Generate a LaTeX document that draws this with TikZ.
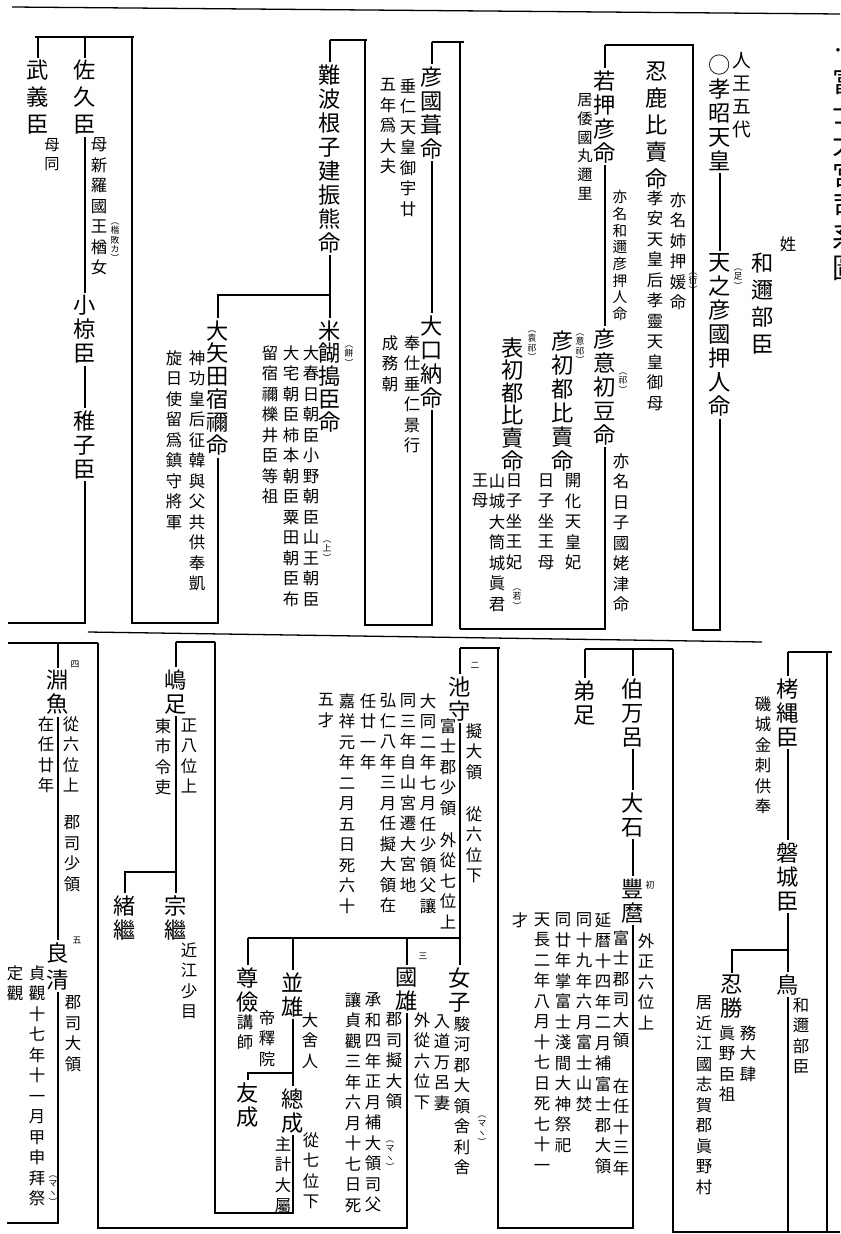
\documentclass[tikz,border=0pt]{standalone}
\usepackage{fontspec}
\newfontfamily\cjk{Noto Sans CJK JP}
\usepackage{tikz}
\usetikzlibrary{positioning}
\XeTeXlinebreaklocale "ja"
\XeTeXlinebreakskip=0pt plus 1pt

\begin{document}
\begin{tikzpicture}[x=0.03cm, y=-0.03cm, line width=1.1pt,
        nm/.style={font=\cjk\fontsize{19}{20.5}\selectfont, text width=21pt,
                align=center, inner sep=0pt, outer sep=2pt, anchor=north},
        lnm/.style={nm, font=\cjk\fontsize{19}{23}\selectfont},
        an/.style={font=\cjk\fontsize{14}{17.5}\selectfont, text width=16pt,
                align=center, inner sep=0pt, anchor=north},
        san/.style={an, font=\cjk\fontsize{13}{16}\selectfont},
        nt/.style={font=\cjk\fontsize{7.5}{8}\selectfont, align=center,
                inner sep=0pt, anchor=north}
        ]
        \useasboundingbox (0,0) rectangle (840,1234);
        \fill[white] (0,0) rectangle (840,1234);
        \clip (0,0) rectangle (840,1234);

        % title (cut by the page edge)
        \node[font=\cjk\fontsize{24}{26.5}\selectfont, text width=26pt, align=center,
                inner sep=0pt, anchor=north] (title) at (847,68) {富士大宮司系圖};
        \node[nt, font=\cjk\fontsize{14}{14}\selectfont] (tdot) at (838,48) {・};

        % rules
        \draw (12,7) -- (840,14);
        \draw (88,632) -- (762,642);

        % Kosho Tenno
        \node[nm, font=\cjk\fontsize{16}{19.5}\selectfont] (ninno) at (742,50) {人王五代};
        \node[nm] (kosho) at (720,53) {○\\孝昭天皇};
        \node[an] (kabane) at (788,236) {姓};
        \node[lnm] (wanibe) at (763,251) {和邇部臣};
        \node[nm] (amatarashi) at (720,251) {天之彦國押人命};
        \node[nt] (amatarashi1) at (738,268) {︵\\足\\︶};
        \draw (kosho.south) -- (amatarashi.north);

        % Oshika / Wakaoshi
        \coordinate (b1l) at (605,45);
        \coordinate (b1r) at (693,45);
        \node[lnm] (oshika) at (657,60) {忍鹿比賣命};
        \node[an] (oshika1) at (678,192) {亦名姉押媛命};
        \node[nt] (oshika2) at (693,272) {︵\\衍\\︶};
        \node[an] (oshika3) at (655,190) {孝安天皇后孝靈天皇御母};
        \node[nm] (wakaoshi) at (605,68) {若押彦命};
        \node[san] (wakaoshi1) at (585,93) {居倭國丸邇里};
        \node[san, font=\cjk\fontsize{12.5}{14.2}\selectfont] (wakaoshi2) at (620,190) {亦名和邇彦押人命};
        \node[nm] (hikoki) at (605,326) {彦意初豆命};
        \node[nt] (hikoki1) at (623,372) {︵\\祁\\︶};
        \node[an] (hikoki2) at (621,453) {亦名日子國姥津命};
        \draw (b1l) -- (b1r) -- (693,630) -- (720,630) -- (amatarashi.south);
        \draw (b1l) -- (wakaoshi.north);
        \draw (wakaoshi.south) -- (hikoki.north);
        \draw (hikoki.south) -- (605,629) -- (460,629);

        % the two princesses
        \node[nm] (hikohime) at (563,328) {彦初都比賣命};
        \node[nt] (hikohime1) at (580,333) {︵\\意\\祁\\︶};
        \node[an] (hikohime2) at (573,473) {開化天皇妃};
        \node[an] (hikohime3) at (546,473) {日子坐王母};
        \node[nm, font=\cjk\fontsize{19}{19.3}\selectfont] (omote) at (513,335) {表初都比賣命};
        \node[nt] (omote1) at (532,330) {︵\\袁\\祁\\︶};
        \node[an] (omote2) at (514,473) {日子坐王妃};
        \node[an] (omote3) at (497,473) {山城大筒城眞君};
        \node[nt] (omote4) at (517,588) {︵\\若\\︶};
        \node[an] (omote5) at (480,473) {王母};

        % Hikokunibuku
        \coordinate (b2l) at (432,42);
        \coordinate (b2r) at (464,42);
        \node[nm] (hikokuni) at (432,64) {彦國葺命};
        \node[an] (hikokuni1) at (408,78) {垂仁天皇御宇廿};
        \node[an] (hikokuni2) at (388,78) {五年爲大夫};
        \node[nm] (ooguchi) at (432,313) {大口納命};
        \node[an] (ooguchi1) at (412,335) {奉仕垂仁景行};
        \node[an] (ooguchi2) at (390,335) {成務朝};
        \draw (b2l) -- (b2r);
        \draw (b2l) -- (hikokuni.north);
        \draw (hikokuni.south) -- (ooguchi.north);
        \draw (460,42) -- (460,629);

        % Naniwa
        \coordinate (b3l) at (330,40);
        \coordinate (b3r) at (367,40);
        \node[nm] (naniwa) at (330,62) {難波根子建振熊命};
        \node[nm, font=\cjk\fontsize{19}{19.6}\selectfont] (takafu) at (330,318) {米餬搗臣命};
        \node[nt] (takafu1) at (349,345) {︵\\餅\\︶};
        \node[an] (takafu2) at (311,345) {大春日朝臣小野朝臣山王朝臣};
        \node[nt] (takafu3) at (327,540) {︵\\上\\︶};
        \node[an] (takafu4) at (291,345) {大宅朝臣柿本朝臣粟田朝臣布};
        \node[an] (takafu5) at (270,345) {留宿禰櫟井臣等祖};
        \node[nm, font=\cjk\fontsize{19}{19.6}\selectfont] (ooyata) at (218,318) {大矢田宿禰命};
        \node[an] (ooyata1) at (197,350) {神功皇后征韓與父共供奉凱};
        \node[an] (ooyata2) at (174,350) {旋日使留爲鎮守將軍};
        \coordinate (j3) at (330,295);
        \draw (b3l) -- (b3r);
        \draw (b3l) -- (naniwa.north);
        \draw (naniwa.south) -- (takafu.north);
        \draw (j3) -- (218,295) -- (ooyata.north);
        \draw (365,40) -- (365,625) -- (432,625) -- (ooguchi.south);
        \draw (ooyata.south) -- (218,623) -- (132,623) -- (132,37);

        % Takeyoshi / Saku
        \coordinate (b4l) at (35,37);
        \coordinate (b4r) at (134,37);
        \node[lnm] (takeyoshi) at (38,58) {武義臣};
        \node[san] (takeyoshi1) at (52,138) {母同};
        \node[lnm] (saku) at (85,58) {佐久臣};
        \node[an] (saku1) at (99,137) {母新羅國王楢女};
        \node[nt] (saku2) at (115,222) {︵\\楷\\敗\\カ\\︶};
        \node[nm] (ogura) at (85,293) {小椋臣};
        \node[nm] (wakugo) at (85,408) {稚子臣};
        \draw (b4l) -- (b4r);
        \draw (38,37) -- (takeyoshi.north);
        \draw (85,37) -- (saku.north);
        \draw (saku.south) -- (ogura.north);
        \draw (ogura.south) -- (wakugo.north);
        \draw (wakugo.south) -- (85,623) -- (8,623);

        % Fuchina
        \coordinate (b5l) at (8,643);
        \coordinate (b5r) at (98,643);
        \node[nt] (n4) at (75,660) {四};
        \node[nm] (fuchina) at (58,668) {淵魚};
        \node[an] (fuchina1) at (71,716) {從六位上};
        \node[an] (fuchina2) at (46,716) {在任廿年};
        \node[an] (fuchina3) at (72,815) {郡司少領};
        \node[nt] (n5) at (77,936) {五};
        \node[lnm] (yoshikiyo) at (58,940) {良清};
        \node[an] (yoshikiyo1) at (73,995) {郡司大領};
        \node[an] (yoshikiyo2) at (37,965) {貞觀十七年十一月甲申拜祭};
        \node[nt] (yoshikiyo3) at (53,1175) {︵\\マ\\ヽ\\︶};
        \node[an] (yoshikiyo4) at (15,965) {定觀};
        \draw (b5l) -- (b5r);
        \draw (58,643) -- (fuchina.north);
        \draw (fuchina.south) -- (yoshikiyo.north);
        \draw (yoshikiyo.south) -- (58,1223) -- (7,1223);

        % Shimatari
        \coordinate (b6l) at (176,642);
        \coordinate (b6r) at (215,642);
        \node[nm] (shimatari) at (176,667) {嶋足};
        \node[an] (shimatari1) at (189,718) {正八位上};
        \node[an] (shimatari2) at (163,718) {東市令吏};
        \node[nm] (munetsugu) at (176,893) {宗繼};
        \node[an] (munetsugu1) at (189,942) {近江少目};
        \node[nm] (otsugu) at (125,893) {緒繼};
        \coordinate (j6) at (176,872);
        \draw (b6l) -- (b6r);
        \draw (b6l) -- (shimatari.north);
        \draw (shimatari.south) -- (munetsugu.north);
        \draw (j6) -- (125,872) -- (otsugu.north);

        % Ikemori
        \coordinate (b7l) at (460,648);
        \coordinate (b7r) at (500,648);
        \node[nt] (n2) at (475,662) {二};
        \node[nm] (ikemori) at (460,674) {池守};
        \node[an] (ikemori1) at (474,723) {擬大領};
        \node[an] (ikemori2) at (474,806) {從六位下};
        \node[an] (ikemori3) at (448,718) {富士郡少領};
        \node[an] (ikemori4) at (448,832) {外從七位上};
        \node[an] (ikemori5) at (428,693) {大同二年七月任少領父讓};
        \node[an] (ikemori6) at (408,693) {同三年自山宮遷大宮地};
        \node[an] (ikemori7) at (388,693) {弘仁八年三月任擬大領在};
        \node[an] (ikemori8) at (368,693) {任廿一年};
        \node[an] (ikemori9) at (347,693) {嘉祥元年二月五日死六十};
        \node[an] (ikemori10) at (326,693) {五才};
        \draw (b7l) -- (b7r);
        \draw (b7l) -- (ikemori.north);

        % children of Ikemori
        \coordinate (b8l) at (248,938);
        \coordinate (b8r) at (460,938);
        \node[nm] (sonken) at (248,965) {尊儉};
        \node[an] (sonken1) at (267,1010) {帝釋院};
        \node[an] (sonken2) at (245,1014) {講師};
        \node[nm] (tomonari) at (248,1080) {友成};
        \node[nm] (namio) at (293,970) {並雄};
        \node[an] (namio1) at (310,1012) {大舍人};
        \node[nm] (fusanari) at (293,1086) {總成};
        \node[an] (fusanari1) at (311,1132) {從七位下};
        \node[an] (fusanari2) at (283,1136) {主計大屬};
        \node[nt] (n3) at (423,952) {三};
        \node[nm] (kunio) at (407,965) {國雄};
        \node[an] (kunio1) at (422,1012) {外從六位下};
        \node[an] (kunio2) at (394,1012) {郡司擬大領};
        \node[an] (kunio3) at (373,992) {承和四年正月補大領司父};
        \node[nt] (kunio4) at (390,1140) {︵\\マ\\ヽ\\︶};
        \node[an] (kunio5) at (353,992) {讓貞觀三年六月十七日死};
        \node[nm] (nyoshi) at (460,965) {女子};
        \node[an] (nyoshi1) at (442,1014) {入道万呂妻};
        \node[an] (nyoshi2) at (462,1016) {駿河郡大領舍利舍};
        \node[nt] (nyoshi3) at (482,1115) {︵\\マ\\ヽ\\︶};
        \coordinate (j8) at (293,1073);
        \draw (b8l) -- (b8r);
        \draw (ikemori.south) -- (b8r) -- (nyoshi.north);
        \draw (b8l) -- (sonken.north);
        \draw (293,938) -- (namio.north);
        \draw (407,938) -- (kunio.north);
        \draw (namio.south) -- (fusanari.north);
        \draw (j8) -- (248,1073) -- (tomonari.north);
        \draw (fusanari.south) -- (293,1213) -- (215,1213) -- (b6r);
        \draw (kunio.south) -- (407,1228) -- (98,1228) -- (b5r);

        % Hakumaro
        \coordinate (b9l) at (585,649);
        \coordinate (b9r) at (673,649);
        \node[nm] (ototari) at (585,678) {弟足};
        \node[nm] (hakumaro) at (633,676) {伯万呂};
        \node[nm] (ooishi) at (633,790) {大石};
        \node[nt] (nhatsu) at (650,880) {初};
        \node[nm] (toyomaro) at (633,876) {豐麿};
        \node[an] (toyomaro1) at (646,933) {外正六位上};
        \node[an] (toyomaro2) at (621,930) {富士郡司大領};
        \node[an] (toyomaro3) at (621,1078) {在任十三年};
        \node[an] (toyomaro4) at (603,912) {延暦十四年二月補富士郡大領};
        \node[an] (toyomaro5) at (584,912) {同十九年六月富士山焚};
        \node[an] (toyomaro6) at (563,912) {同廿年掌富士淺間大神祭祀};
        \node[an] (toyomaro7) at (542,912) {天長二年八月十七日死七十一};
        \node[an] (toyomaro8) at (520,912) {才};
        \draw (b9l) -- (b9r);
        \draw (b9l) -- (ototari.north);
        \draw (633,649) -- (hakumaro.north);
        \draw (hakumaro.south) -- (ooishi.north);
        \draw (ooishi.south) -- (toyomaro.north);
        \draw (toyomaro.south) -- (633,1228) -- (498,1228) -- (498,648);
        \draw (b9r) -- (673,1232) -- (840,1232);

        % Takunawa
        \coordinate (b10l) at (788,652);
        \coordinate (b10r) at (832,652);
        \node[nm] (takunawa) at (788,676) {栲縄臣};
        \node[an] (takunawa1) at (763,696) {磯城金刺供奉};
        \node[nm] (iwaki) at (788,840) {磐城臣};
        \node[nm] (tori) at (788,972) {鳥};
        \node[an] (tori1) at (801,997) {和邇部臣};
        \node[nm] (oshikatsu) at (732,973) {忍勝};
        \node[an] (oshikatsu1) at (748,1025) {務大肆};
        \node[an] (oshikatsu2) at (727,1025) {眞野臣祖};
        \node[an] (oshikatsu3) at (704,995) {居近江國志賀郡眞野村};
        \coordinate (j10) at (788,950);
        \draw (b10l) -- (b10r);
        \draw (b10l) -- (takunawa.north);
        \draw (takunawa.south) -- (iwaki.north);
        \draw (iwaki.south) -- (tori.north);
        \draw (j10) -- (732,950) -- (oshikatsu.north);
        \draw (tori.south) -- (788,1232);
        \draw (827,652) -- (827,1232);
    \end{tikzpicture}
\end{document}
